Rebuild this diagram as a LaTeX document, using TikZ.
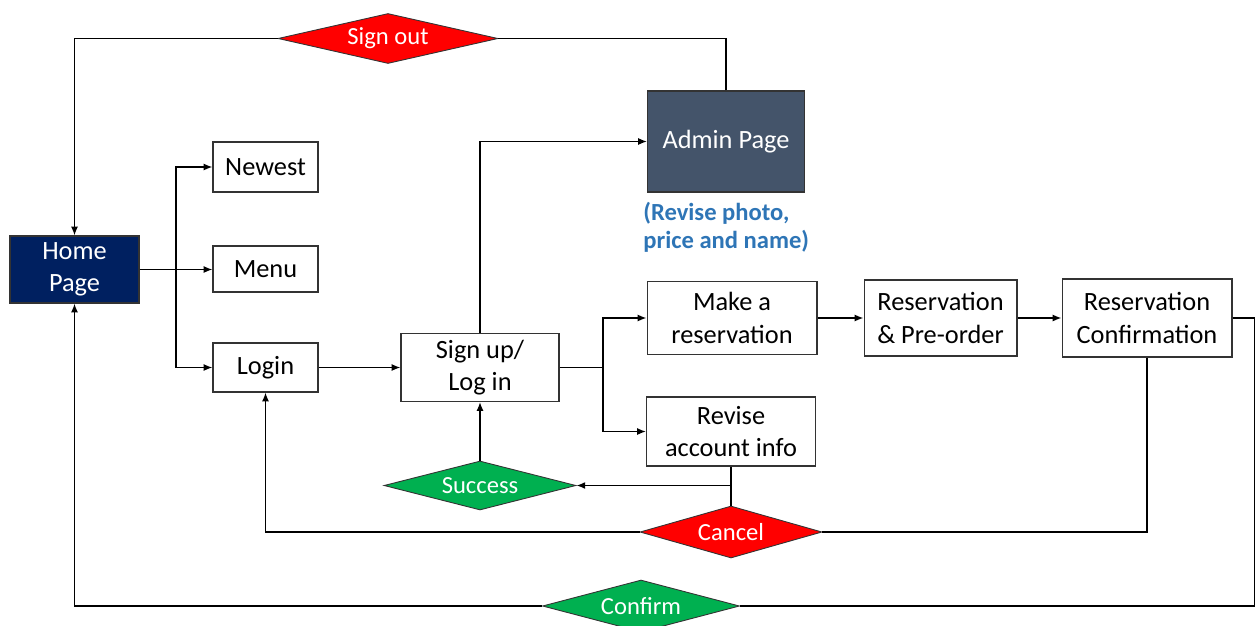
\documentclass[tikz,border=0pt]{standalone}
\usepackage{fontspec}
\setmainfont{Carlito}
\usetikzlibrary{shapes.geometric, arrows.meta}

\definecolor{homeblue}{HTML}{002060}
\definecolor{adminslate}{HTML}{44546A}
\definecolor{notered}{HTML}{FF0000}
\definecolor{notegreen}{HTML}{00B050}
\definecolor{noteblue}{HTML}{2E75B6}

\tikzset{
  box/.style={draw=black!80, line width=0.6pt, fill=white, align=center, inner sep=0pt, font=\fontsize{15}{18.5}\selectfont},
  darkbox/.style={box, text=white},
  choice/.style={diamond, draw=black!80, line width=0.5pt, shape aspect=4, inner sep=0pt, text=white, font=\fontsize{14}{16}\selectfont},
  link/.style={black, line width=0.9pt},
  arrow/.style={link, -{Latex[length=5pt,width=4pt]}}
}

\begin{document}
\begin{tikzpicture}[x=0.02cm, y=-0.02cm]
\useasboundingbox (0,0) rectangle (1256,625);
% pages
\node[darkbox, fill=homeblue, minimum width=2.58cm, minimum height=1.34cm] (home) at (74.5,269.5){Home\\Page};
\node[box, minimum width=2.1cm, minimum height=1.0cm] (newest) at (265.5,167){Newest};
\node[box, minimum width=2.1cm, minimum height=0.92cm] (menu) at (265.5,269){Menu};
\node[box, minimum width=2.1cm, minimum height=0.98cm] (login) at (265.5,367.5){Login};
\node[box, minimum width=3.16cm, minimum height=1.36cm] (signup) at (480,367.5){Sign up/\\Log in};
\node[darkbox, fill=adminslate, minimum width=3.14cm, minimum height=2.02cm] (admin) at (726,141.5){Admin Page};
\node[text=noteblue, font=\fontsize{14}{16}\selectfont\bfseries, align=left, anchor=west, inner sep=0pt] (note) at (643,227){(Revise photo,\\price and name)};
\node[box, minimum width=3.4cm, minimum height=1.46cm] (make) at (732,318){Make a\\reservation};
\node[box, minimum width=3.06cm, minimum height=1.52cm] (preorder) at (940.5,318){Reservation\\\& Pre-order};
\node[box, minimum width=3.4cm, minimum height=1.56cm] (confirmation) at (1147,318){Reservation\\Confirmation};
\node[box, minimum width=3.38cm, minimum height=1.38cm] (revise) at (731,431.5){Revise\\account info};
% decisions
\node[choice, fill=notered, minimum width=4.4cm, minimum height=1.0cm] (signout) at (388,38.5){Sign out};
\node[choice, fill=notegreen, minimum width=3.84cm, minimum height=0.98cm] (success) at (480,485.5){Success};
\node[choice, fill=notered, minimum width=3.64cm, minimum height=1.04cm] (cancel) at (731,532){Cancel};
\node[choice, fill=notegreen, minimum width=3.94cm, minimum height=1.04cm] (confirm) at (641,606){Confirm};
% connectors
\coordinate (hsplit) at (176,269.5);
\coordinate (rsplit) at (603,367.5);
\draw[link] (admin.north) |- (signout.east);
\draw[arrow] (signout.west) -| (home.north);
\draw[arrow] (home.east) -- (menu.west |- home.east);
\draw[arrow] (hsplit) |- (newest.west);
\draw[arrow] (hsplit) |- (login.west);
\draw[arrow] (login.east) -- (signup.west);
\draw[arrow] (signup.north) |- (admin.west);
\draw[link] (signup.east) -- (rsplit);
\draw[arrow] (rsplit) |- (make.west);
\draw[arrow] (rsplit) |- (revise.west);
\draw[arrow] (make.east) -- (preorder.west);
\draw[arrow] (preorder.east) -- (confirmation.west);
\draw[link] (confirmation.east) -- ++(22,0) |- (confirm.east);
\draw[arrow] (confirm.west) -| (home.south);
\draw[link] (confirmation.south) |- (cancel.east);
\draw[arrow] (cancel.west) -| (login.south);
\draw[link] (revise.south) -- (cancel.north);
\draw[arrow] (revise.south |- success.east) -- (success.east);
\draw[arrow] (success.north) -- (signup.south);
\end{tikzpicture}
\end{document}
